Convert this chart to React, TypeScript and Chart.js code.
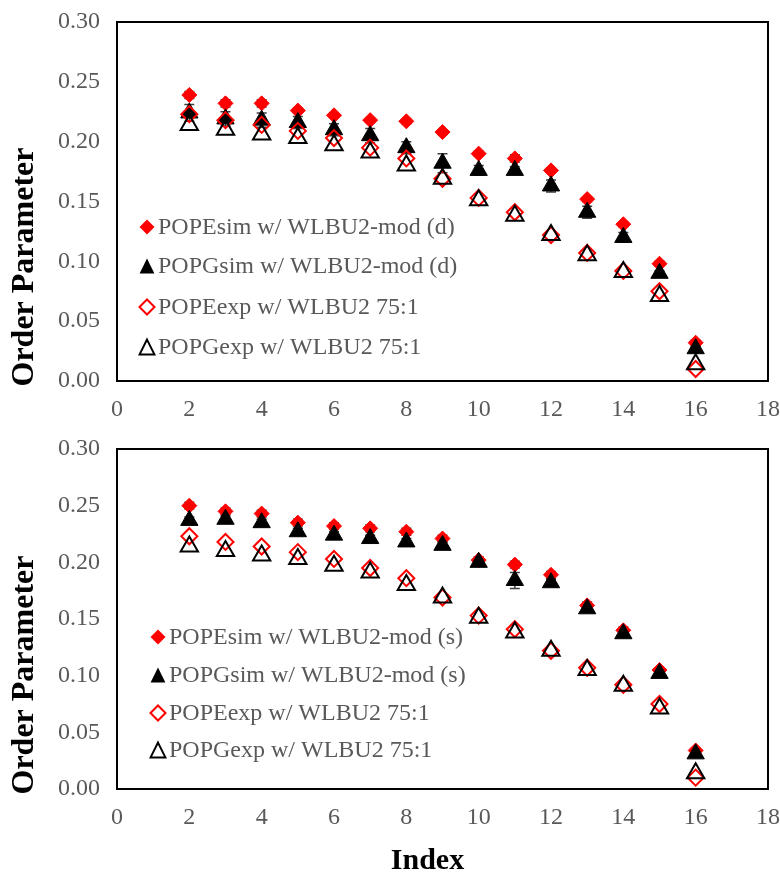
import React, { useEffect, useRef } from 'react';
import { Chart, registerables } from 'chart.js';

Chart.register(...registerables);

// ---------------- data ----------------
const indexValues = [2, 3, 4, 5, 6, 7, 8, 9, 10, 11, 12, 13, 14, 15, 16];
const xTickValues = [0, 2, 4, 6, 8, 10, 12, 14, 16, 18];
const yTickValues = [0, 0.05, 0.1, 0.15, 0.2, 0.25, 0.3];

// top panel (d)
const popeSimD = [0.239, 0.232, 0.232, 0.226, 0.222, 0.218, 0.217, 0.208, 0.190, 0.186, 0.176, 0.152, 0.131, 0.098, 0.032];
const popeSimDErr = [0.003, 0.003, 0.003, 0.002, 0.002, 0.002, 0.002, 0.002, 0.002, 0.003, 0.002, 0.002, 0.002, 0.002, 0.002];
const popgSimD = [0.224, 0.219, 0.218, 0.216, 0.210, 0.205, 0.195, 0.182, 0.176, 0.176, 0.163, 0.141, 0.120, 0.090, 0.027];
const popgSimDErr = [0.007, 0.006, 0.006, 0.005, 0.005, 0.006, 0.005, 0.008, 0.004, 0.003, 0.005, 0.005, 0.004, 0.002, 0.002];

// bottom panel (s)
const popeSimS = [0.250, 0.245, 0.243, 0.235, 0.232, 0.230, 0.227, 0.221, 0.202, 0.198, 0.189, 0.162, 0.140, 0.105, 0.034];
const popeSimSErr = [0.003, 0.003, 0.003, 0.003, 0.003, 0.003, 0.003, 0.003, 0.003, 0.003, 0.003, 0.003, 0.003, 0.002, 0.002];
const popgSimS = [0.237, 0.238, 0.235, 0.227, 0.224, 0.221, 0.218, 0.215, 0.200, 0.184, 0.182, 0.159, 0.137, 0.102, 0.031];
const popgSimSErr = [0.003, 0.003, 0.003, 0.003, 0.003, 0.003, 0.003, 0.003, 0.003, 0.007, 0.003, 0.003, 0.003, 0.002, 0.002];

// experiment (both panels)
const popeExp = [0.223, 0.218, 0.214, 0.209, 0.203, 0.195, 0.186, 0.169, 0.153, 0.141, 0.122, 0.107, 0.092, 0.075, 0.010];
const popgExp = [0.214, 0.210, 0.206, 0.203, 0.197, 0.191, 0.180, 0.169, 0.151, 0.138, 0.122, 0.105, 0.091, 0.071, 0.014];

const labelsD = ['POPEsim w/ WLBU2-mod (d)', 'POPGsim w/ WLBU2-mod (d)', 'POPEexp w/ WLBU2 75:1', 'POPGexp w/ WLBU2 75:1'];
const labelsS = ['POPEsim w/ WLBU2-mod (s)', 'POPGsim w/ WLBU2-mod (s)', 'POPEexp w/ WLBU2 75:1', 'POPGexp w/ WLBU2 75:1'];
const yTitle = 'Order Parameter';
const xTitle = 'Index';

// ---------------- styling ----------------
const FONT = "'Liberation Serif', 'Times New Roman', serif";
const GRAY = '#595959';
const RED = '#ff0000';
const BLACK = '#000000';

type Kind = 'diamond' | 'triangle';
interface Series {
  label: string;
  values: number[];
  errors?: number[];
  kind: Kind;
  filled: boolean;
  color: string;
}

function drawMarker(ctx: CanvasRenderingContext2D, kind: Kind, filled: boolean, color: string, x: number, y: number, r: number) {
  ctx.save();
  ctx.beginPath();
  if (kind === 'diamond') {
    ctx.moveTo(x - r, y);
    ctx.lineTo(x, y - r);
    ctx.lineTo(x + r, y);
    ctx.lineTo(x, y + r);
  } else {
    const h = r * 0.87;
    ctx.moveTo(x, y - h);
    ctx.lineTo(x + h, y + h);
    ctx.lineTo(x - h, y + h);
  }
  ctx.closePath();
  if (filled) {
    ctx.fillStyle = color;
    ctx.fill();
  } else {
    ctx.strokeStyle = color;
    ctx.lineWidth = 2;
    ctx.stroke();
  }
  ctx.restore();
}

interface Decor {
  legendX: number;
  legendTextX: number;
  legendYs: number[]; // offsets from chart area top
  showXTitle: boolean;
}

function makeDecor(series: Series[], decor: Decor) {
  return {
    id: 'panelDecor',
    beforeDatasetsDraw(chart: any) {
      const { ctx, chartArea } = chart;
      const xs = chart.scales.x;
      const ys = chart.scales.y;
      // plot box
      ctx.save();
      ctx.strokeStyle = '#000';
      ctx.lineWidth = 2;
      ctx.strokeRect(chartArea.left, chartArea.top, chartArea.right - chartArea.left, chartArea.bottom - chartArea.top);
      ctx.restore();
      // error bars
      ctx.save();
      ctx.strokeStyle = '#404040';
      ctx.lineWidth = 1.5;
      series.forEach((s) => {
        if (!s.errors) return;
        indexValues.forEach((xv, j) => {
          const e = s.errors![j];
          const px = xs.getPixelForValue(xv);
          const p1 = ys.getPixelForValue(s.values[j] + e);
          const p2 = ys.getPixelForValue(s.values[j] - e);
          ctx.beginPath();
          ctx.moveTo(px, p1);
          ctx.lineTo(px, p2);
          ctx.moveTo(px - 5, p1);
          ctx.lineTo(px + 5, p1);
          ctx.moveTo(px - 5, p2);
          ctx.lineTo(px + 5, p2);
          ctx.stroke();
        });
      });
      ctx.restore();
    },
    afterDraw(chart: any) {
      const { ctx, chartArea } = chart;
      // legend
      ctx.save();
      ctx.font = `24px ${FONT}`;
      ctx.textAlign = 'left';
      ctx.textBaseline = 'middle';
      series.forEach((s, i) => {
        const y = chartArea.top + decor.legendYs[i];
        drawMarker(ctx, s.kind, s.filled, s.color, decor.legendX, y, s.kind === 'diamond' ? 7.5 : 8.5);
        ctx.fillStyle = GRAY;
        ctx.fillText(s.label, decor.legendTextX, y + 1);
      });
      ctx.restore();
      // y title
      ctx.save();
      ctx.translate(33, chartArea.bottom - 114);
      ctx.rotate(-Math.PI / 2);
      ctx.font = `bold 32px ${FONT}`;
      ctx.fillStyle = '#000';
      ctx.textAlign = 'center';
      ctx.textBaseline = 'alphabetic';
      ctx.fillText(yTitle, 0, 0);
      ctx.restore();
      // x title
      if (decor.showXTitle) {
        ctx.save();
        ctx.font = `bold 30px ${FONT}`;
        ctx.fillStyle = '#000';
        ctx.textAlign = 'center';
        ctx.textBaseline = 'alphabetic';
        ctx.fillText(xTitle, (chartArea.left + chartArea.right) / 2 - 15, chartArea.bottom + 80);
        ctx.restore();
      }
    },
  };
}

function makeConfig(series: Series[], padTop: number, xAxisHeight: number, decor: Decor) {
  const n = series.length;
  return {
    type: 'scatter' as const,
    data: {
      datasets: series.map((s, i) => ({
        label: s.label,
        data: indexValues.map((x, j) => ({ x, y: s.values[j] })),
        pointStyle: s.kind === 'diamond' ? 'rectRot' : 'triangle',
        pointRadius: s.kind === 'diamond' ? (s.filled ? 7.5 : 8) : 10,
        pointHoverRadius: s.kind === 'diamond' ? (s.filled ? 7.5 : 8) : 10,
        backgroundColor: s.filled ? s.color : 'rgba(0,0,0,0)',
        borderColor: s.color,
        pointBackgroundColor: s.filled ? s.color : 'rgba(0,0,0,0)',
        pointBorderColor: s.color,
        pointBorderWidth: s.filled ? 1 : 2,
        showLine: false,
        order: n - i,
      })),
    },
    options: {
      responsive: false,
      animation: false,
      devicePixelRatio: 1,
      layout: { padding: { top: padTop, right: 12, left: 0, bottom: 0 } },
      plugins: { legend: { display: false }, tooltip: { enabled: false } },
      scales: {
        x: {
          type: 'linear',
          min: 0,
          max: 18,
          afterBuildTicks: (scale: any) => {
            scale.ticks = xTickValues.map((v) => ({ value: v }));
          },
          ticks: {
            font: { family: FONT, size: 24 },
            color: GRAY,
            padding: 14,
            maxRotation: 0,
            autoSkip: false,
            callback: (v: any) => String(v),
          },
          grid: { display: false, drawTicks: false },
          border: { display: false },
          afterFit: (scale: any) => {
            scale.height = xAxisHeight;
            scale.paddingLeft = 0;
            scale.paddingRight = 0;
          },
        },
        y: {
          type: 'linear',
          min: 0,
          max: 0.3,
          afterBuildTicks: (scale: any) => {
            scale.ticks = yTickValues.map((v) => ({ value: v }));
          },
          ticks: {
            font: { family: FONT, size: 24 },
            color: GRAY,
            padding: 17,
            autoSkip: false,
            callback: (v: any) => Number(v).toFixed(2),
          },
          grid: { display: false, drawTicks: false },
          border: { display: false },
          afterFit: (scale: any) => {
            scale.width = 117;
            scale.paddingTop = 0;
            scale.paddingBottom = 0;
          },
        },
      },
    },
    plugins: [makeDecor(series, decor)],
  };
}

const seriesD: Series[] = [
  { label: labelsD[0], values: popeSimD, errors: popeSimDErr, kind: 'diamond', filled: true, color: RED },
  { label: labelsD[1], values: popgSimD, errors: popgSimDErr, kind: 'triangle', filled: true, color: BLACK },
  { label: labelsD[2], values: popeExp, kind: 'diamond', filled: false, color: RED },
  { label: labelsD[3], values: popgExp, kind: 'triangle', filled: false, color: BLACK },
];

const seriesS: Series[] = [
  { label: labelsS[0], values: popeSimS, errors: popeSimSErr, kind: 'diamond', filled: true, color: RED },
  { label: labelsS[1], values: popgSimS, errors: popgSimSErr, kind: 'triangle', filled: true, color: BLACK },
  { label: labelsS[2], values: popeExp, kind: 'diamond', filled: false, color: RED },
  { label: labelsS[3], values: popgExp, kind: 'triangle', filled: false, color: BLACK },
];

export default function App() {
  const topRef = useRef<HTMLCanvasElement | null>(null);
  const botRef = useRef<HTMLCanvasElement | null>(null);

  useEffect(() => {
    const charts: Chart[] = [];
    if (topRef.current) {
      charts.push(
        new Chart(
          topRef.current,
          makeConfig(seriesD, 22, 49, { legendX: 147, legendTextX: 158, legendYs: [205, 244, 285, 325], showXTitle: false }) as any
        )
      );
    }
    if (botRef.current) {
      charts.push(
        new Chart(
          botRef.current,
          makeConfig(seriesS, 19, 84, { legendX: 158, legendTextX: 169, legendYs: [188, 226, 264, 301], showXTitle: true }) as any
        )
      );
    }
    return () => charts.forEach((c) => c.destroy());
  }, []);

  return (
    <div style={{ position: 'fixed', left: 0, top: 0, width: 780, height: 873, background: '#fff' }}>
      <canvas ref={topRef} width={780} height={430} style={{ position: 'absolute', left: 0, top: 0, width: 780, height: 430 }} />
      <canvas ref={botRef} width={780} height={443} style={{ position: 'absolute', left: 0, top: 430, width: 780, height: 443 }} />
    </div>
  );
}
